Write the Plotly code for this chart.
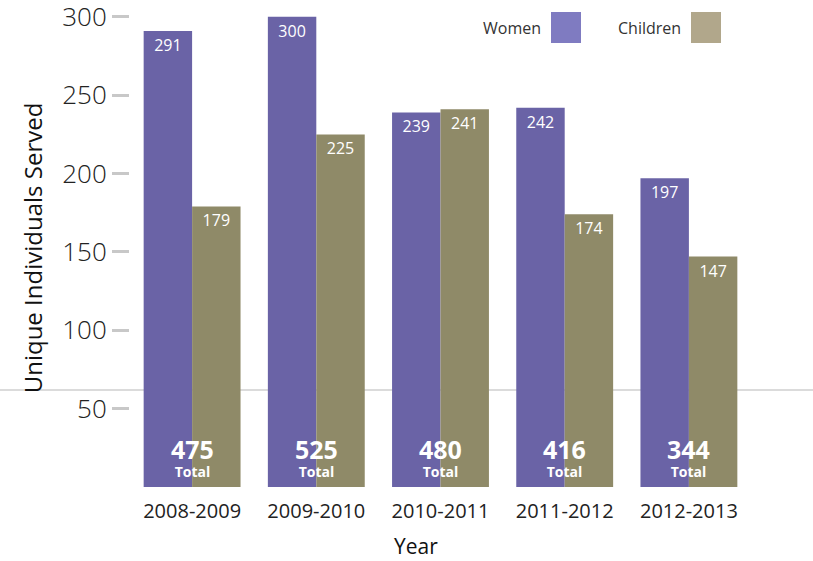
import plotly.graph_objects as go

years = ["2008-2009", "2009-2010", "2010-2011", "2011-2012", "2012-2013"]
women = [291, 300, 239, 242, 197]
children = [179, 225, 241, 174, 147]
totals = [475, 525, 480, 416, 344]
y_ticks = [50, 100, 150, 200, 250, 300]

WOMEN_BAR = "#6a63a6"
CHILD_BAR = "#8f8a68"
WOMEN_KEY = "#7f7bc1"
CHILD_KEY = "#b1a78b"
FONT = "Open Sans"

W, H = 813, 561
L, R, T, B = 130, 62, 9, 74
pw, ph = W - L - R, H - T - B


def px(x):
    return (x - L) / pw


def py(y):
    return (H - B - y) / ph


fig = go.Figure()
for name, vals, col in [("Women", women, WOMEN_BAR), ("Children", children, CHILD_BAR)]:
    fig.add_trace(go.Bar(
        x=years, y=vals, name=name, marker=dict(color=col, line=dict(width=0)),
        text=[str(v) for v in vals], textposition="inside", insidetextanchor="end",
        textangle=0, constraintext="none",
        textfont=dict(family=FONT, size=16, color="white"),
        showlegend=False, hoverinfo="x+y",
    ))

ann = []
for yr, t in zip(years, totals):
    ann.append(dict(x=yr, y=py(456), xref="x", yref="paper",
                    text=f"<span style='font-size:25px'><b>{t}</b></span><br><b>Total</b>",
                    showarrow=False, yanchor="middle", align="center",
                    font=dict(family=FONT, size=14, color="white", weight=800)))

ann += [
    dict(x=px(543), y=py(28), xref="paper", yref="paper", text="Women", xanchor="right",
         yanchor="middle", showarrow=False, font=dict(family=FONT, size=16, color="#333")),
    dict(x=px(683), y=py(28), xref="paper", yref="paper", text="Children", xanchor="right",
         yanchor="middle", showarrow=False, font=dict(family=FONT, size=16, color="#333")),
    dict(x=px(416), y=py(546), xref="paper", yref="paper", text="Year", xanchor="center",
         yanchor="middle", showarrow=False, font=dict(family=FONT, size=21, color="#111", weight=500)),
]

shapes = [
    dict(type="line", xref="paper", yref="paper", x0=px(0), x1=px(W), y0=py(390), y1=py(390),
         line=dict(color="#cfcfcf", width=1.5), layer="below"),
    dict(type="rect", xref="paper", yref="paper", x0=px(551), x1=px(581), y0=py(43), y1=py(12),
         fillcolor=WOMEN_KEY, line=dict(width=0)),
    dict(type="rect", xref="paper", yref="paper", x0=px(691), x1=px(721), y0=py(43), y1=py(12),
         fillcolor=CHILD_KEY, line=dict(width=0)),
]

fig.update_layout(
    width=W, height=H,
    margin=dict(l=L, r=R, t=T, b=B, autoexpand=False),
    paper_bgcolor="white", plot_bgcolor="white",
    barmode="group", bargap=0.22, bargroupgap=0,
    annotations=ann, shapes=shapes,
    xaxis=dict(showline=False, showgrid=False, zeroline=False,
               ticks="outside", ticklen=6, tickcolor="rgba(0,0,0,0)",
               tickfont=dict(family=FONT, size=20, color="#222")),
    yaxis=dict(range=[0, 305], tickvals=y_ticks, showgrid=False, zeroline=False, showline=False,
               ticks="outside", ticklen=17, tickwidth=3, tickcolor="#c8c8c8",
               ticklabeloverflow="allow",
               tickfont=dict(family=FONT, size=26, color="#222", weight=300),
               title=dict(text="Unique Individuals Served", standoff=12,
                          font=dict(family=FONT, size=24, color="#111", weight=500))),
)

fig.write_html("out.html", config={"displayModeBar": False},
               post_script="document.body.style.margin='0';")
